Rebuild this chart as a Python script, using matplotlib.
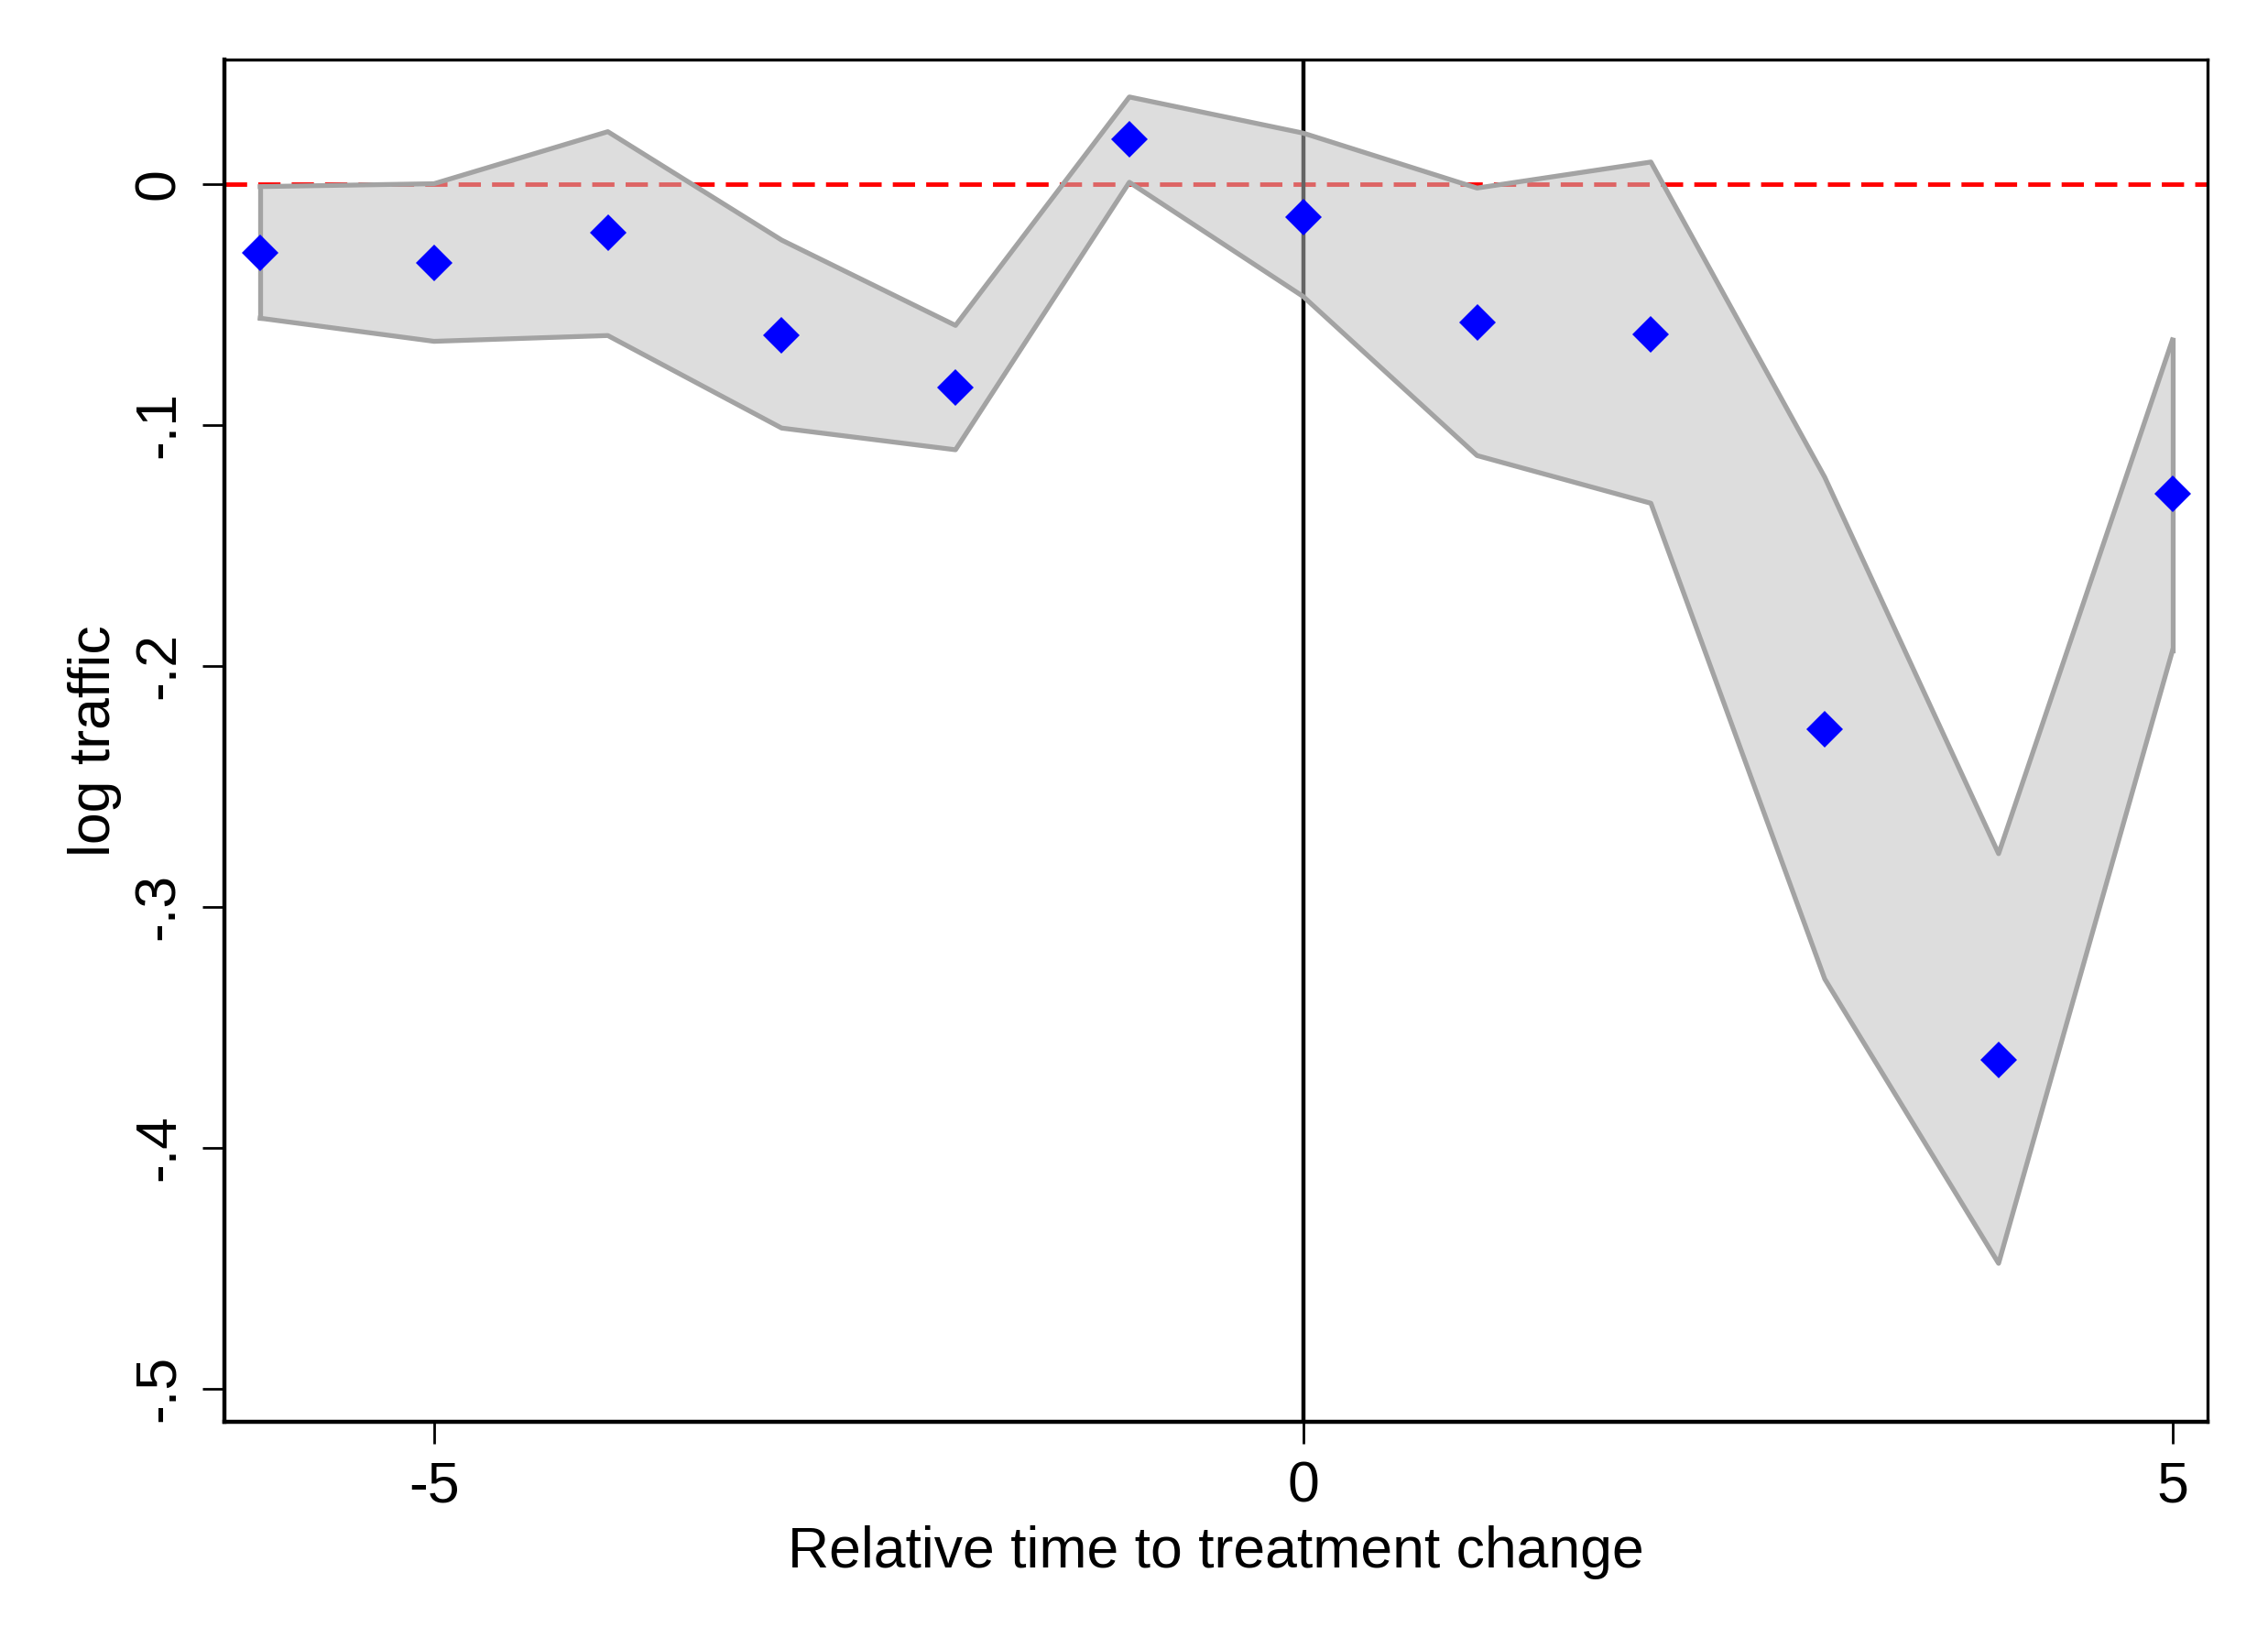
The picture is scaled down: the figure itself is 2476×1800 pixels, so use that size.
import numpy as np
import matplotlib.pyplot as plt

plt.rcParams['font.family'] = ['Liberation Sans', 'DejaVu Sans']

# event time and estimates
t = [-6, -5, -4, -3, -2, -1, 0, 1, 2, 3, 4, 5]
coef = [-0.0288, -0.0330, -0.0204, -0.0630, -0.0846, 0.0186,
        -0.0138, -0.0576, -0.0624, -0.2263, -0.3637, -0.1285]
ci_hi = [-0.0012, 0.0000, 0.0216, -0.0234, -0.0588, 0.0360,
         0.0210, -0.0018, 0.0090, -0.1218, -0.2780, -0.0648]
ci_lo = [-0.0558, -0.0654, -0.0630, -0.1014, -0.1104, 0.0006,
         -0.0468, -0.1128, -0.1326, -0.3300, -0.4480, -0.1938]

yticks = [0, -0.1, -0.2, -0.3, -0.4, -0.5]
ylabs = ['0', '-.1', '-.2', '-.3', '-.4', '-.5']
xticks = [-5, 0, 5]

fig = plt.figure(figsize=(24.76, 18), dpi=100)
ax = fig.add_axes([0.0989, 0.1377, 0.8743, 0.8263])

ax.axhline(0, color='red', lw=3.5, ls=(0, (5, 2.5)), zorder=1)
ax.axvline(0, color='black', lw=3.2, zorder=1)

ax.fill_between(t, ci_lo, ci_hi, color=(0.75, 0.75, 0.75), alpha=0.53, lw=0, zorder=2)
ax.plot(t, ci_hi, color='#a3a3a3', lw=3.8, zorder=3)
ax.plot(t, ci_lo, color='#a3a3a3', lw=3.8, zorder=3)
ax.plot([t[0], t[0]], [ci_lo[0], ci_hi[0]], color='#a3a3a3', lw=3.8, zorder=3)
ax.plot([t[-1], t[-1]], [ci_lo[-1], ci_hi[-1]], color='#a3a3a3', lw=3.8, zorder=3)

ax.plot(t, coef, ls='none', marker='D', ms=20.5, mew=0, color='#0000ff', zorder=4)

ax.set_xlim(-6.206, 5.2)
ax.set_ylim(-0.5138, 0.0516)
ax.set_xticks(xticks)
ax.set_xticklabels([str(v) for v in xticks])
ax.set_yticks(yticks)
ax.set_yticklabels(ylabs, rotation=90, va='center')

ax.tick_params(axis='both', direction='out', length=17, width=2.0, labelsize=45, pad=13)
ax.set_xlabel('Relative time to treatment change', fontsize=45, labelpad=9)
ax.set_ylabel('log traffic', fontsize=45, labelpad=8)

for s in ['left', 'bottom']:
    ax.spines[s].set_linewidth(3.2)
for s in ['top', 'right']:
    ax.spines[s].set_linewidth(2.4)

fig.savefig('out.png', dpi=100)
